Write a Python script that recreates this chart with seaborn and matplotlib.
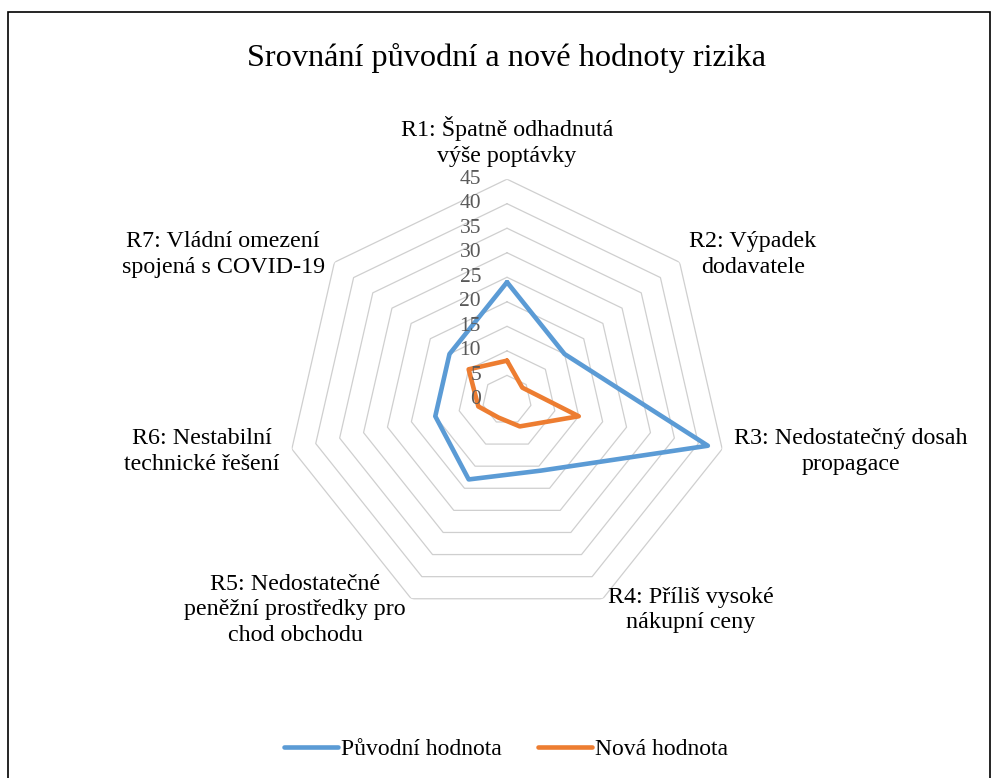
import numpy as np
import pandas as pd
import matplotlib
matplotlib.use("Agg")
import matplotlib.pyplot as plt
import matplotlib.transforms as mtransforms
from matplotlib.patches import Rectangle
import seaborn as sns

# data
kategorie = ["R1: Špatně odhadnutá\nvýše poptávky",
             "R2: Výpadek\ndodavatele",
             "R3: Nedostatečný dosah\npropagace",
             "R4: Příliš vysoké\nnákupní ceny",
             "R5: Nedostatečné\npeněžní prostředky pro\nchod obchodu",
             "R6: Nestabilní\ntechnické řešení",
             "R7: Vládní omezení\nspojená s COVID-19"]
puvodni = [24, 15, 42, 16, 18, 15, 15]
nova = [8, 4, 15, 6, 4, 6, 10]
serie = ["Původní hodnota", "Nová hodnota"]
osa_hodnoty = [0, 5, 10, 15, 20, 25, 30, 35, 40, 45]

sns.set_theme(style="white")
plt.rcParams['font.family'] = ['Liberation Serif', 'DejaVu Serif']
plt.rcParams['text.color'] = 'black'

n = len(kategorie)
uhly = np.linspace(0, 2 * np.pi, n, endpoint=False)
uhly_uzavrene = np.append(uhly, uhly[0])

df = pd.DataFrame({
    "uhel": np.concatenate([uhly_uzavrene, uhly_uzavrene]),
    "hodnota": puvodni + [puvodni[0]] + nova + [nova[0]],
    "serie": [serie[0]] * (n + 1) + [serie[1]] * (n + 1),
})

fig = plt.figure(figsize=(9.92, 7.78), dpi=100)
ax = fig.add_axes([0.2886, 0.2023, 0.445, 0.5674], projection='polar')
ax.set_theta_zero_location('N')
ax.set_theta_direction(-1)
ax.set_ylim(0, osa_hodnoty[-1])

# heptagon grid
for r in osa_hodnoty[1:]:
    ax.plot(uhly_uzavrene, [r] * (n + 1), color='#CFCFCF', lw=0.9, zorder=1)

sns.lineplot(data=df, x="uhel", y="hodnota", hue="serie", sort=False, estimator=None,
             palette=["#5B9BD5", "#ED7D31"], linewidth=3.3, ax=ax, zorder=3)

ax.grid(False)
ax.spines['polar'].set_visible(False)
ax.set_xticks([])
ax.set_yticks([])
ax.set_xlabel("")
ax.set_ylabel("")

# value labels along R1 axis
off = mtransforms.offset_copy(ax.transData, fig=fig, x=-26, y=0, units='dots')
for r in osa_hodnoty:
    ax.text(0, r, str(r), transform=off, ha='right', va='center',
            fontsize=15.5, color='#595959', zorder=4)

# category labels
for a, lab in zip(uhly, kategorie):
    s = np.sin(a)
    ha = 'center' if abs(s) < 0.1 else ('left' if s > 0 else 'right')
    va = 'bottom' if a == 0 else 'center'
    ax.text(a, 47.5, lab, ha=ha, va=va, multialignment='center', fontsize=17.3,
            color='black', linespacing=1.28)

handles, labels = ax.get_legend_handles_labels()
ax.get_legend().remove()
fig.legend(handles, labels, loc='center', bbox_to_anchor=(0.51, 0.037), ncol=2,
           frameon=False, fontsize=17, handlelength=2.3, handletextpad=0.13,
           columnspacing=1.5)

fig.text(0.511, 0.926, "Srovnání původní a nové hodnoty rizika", ha='center', va='center',
         fontsize=23.2, color='black')

fig.patches.append(Rectangle((8 / 992, -0.02), 982 / 992, 1.02 - 12 / 778,
                             transform=fig.transFigure, fill=False, edgecolor='black', lw=1.2))

fig.savefig("out.png", dpi=100)
